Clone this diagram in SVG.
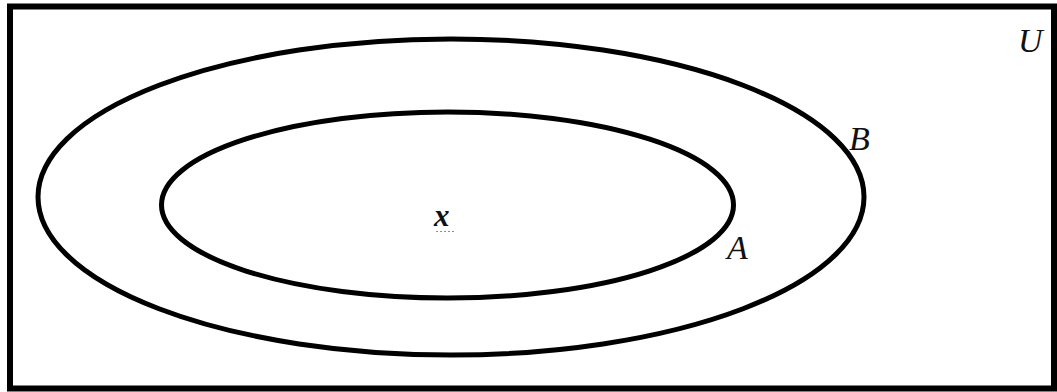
<svg xmlns="http://www.w3.org/2000/svg" width="1057" height="392" viewBox="0 0 1057 392">
<style>
.s{fill:none;stroke:#000;stroke-width:5}
</style>
<rect x="0" y="0" width="1057" height="392" fill="#fff"/>
<g font-family="Liberation Serif, serif" font-style="italic" font-size="34" fill="#111">
<g id="universe"><rect class="s" x="10" y="6.5" width="1044" height="382" style="stroke-width:6"/><text x="1018" y="52">U</text></g>
<g id="setB"><ellipse class="s" cx="451" cy="197" rx="413" ry="158"/><text x="849" y="150">B</text></g>
<g id="setA"><ellipse class="s" cx="447.5" cy="205" rx="286" ry="93"/><text x="727" y="259">A</text></g>
<g id="element"><text x="434" y="226" font-size="31" font-weight="bold">x</text><line x1="436" y1="231.5" x2="455" y2="231.5" stroke="#6a6" stroke-width="1" stroke-dasharray="2,2"/></g>
</g>
<g id="connectors"/>
</svg>
